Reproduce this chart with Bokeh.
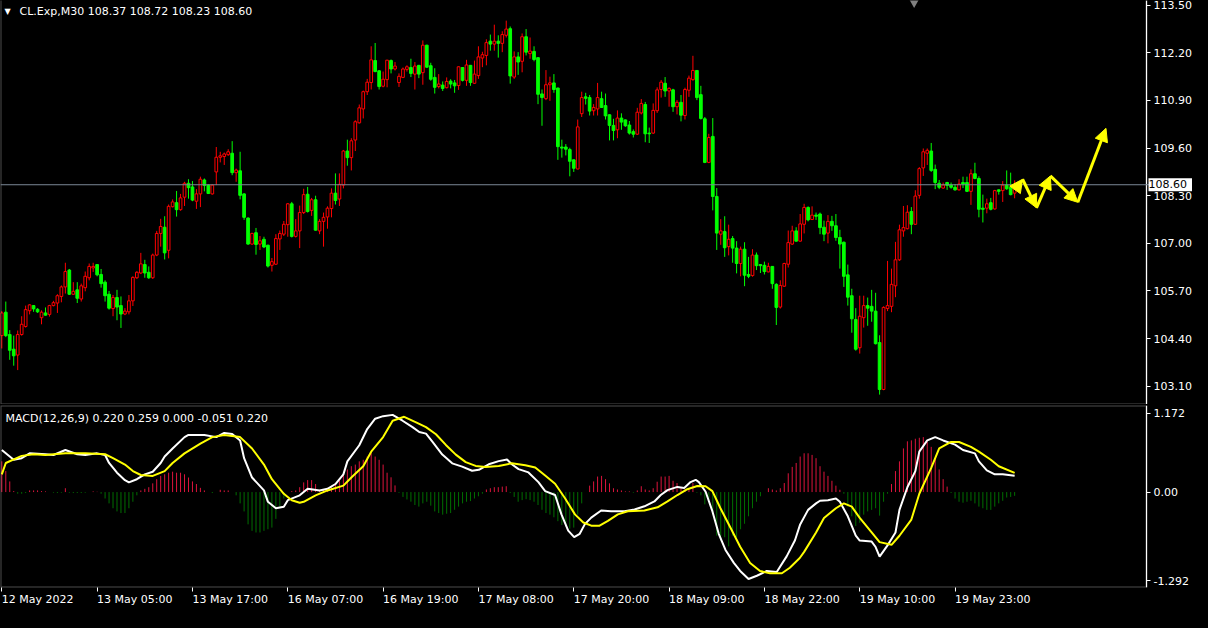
from bokeh.plotting import figure
from bokeh.layouts import column
from bokeh.models import (ColumnDataSource, FixedTicker, NumeralTickFormatter, Span, Label,
                          Arrow, NormalHead, Range1d, LinearAxis, BoxAnnotation)
from bokeh.embed import file_html
from bokeh.resources import INLINE

# ---------------- data (CL.Exp, M30) ----------------
opens = [104.48,105.12,104.51,104.11,103.95,104.51,104.73,105.16,105.30,105.20,104.97,105.10,105.06,105.30,105.37,105.55,
         105.81,106.27,105.61,105.73,105.48,105.79,106.06,106.33,106.42,106.15,105.94,105.61,105.22,105.52,105.30,105.07,
         105.13,105.43,106.06,106.19,106.42,106.21,106.06,106.68,107.27,107.44,106.81,108.00,108.11,107.92,108.26,108.64,
         108.54,108.15,108.35,108.73,108.59,108.35,108.95,109.35,109.37,109.42,109.46,108.93,108.98,108.35,107.69,106.98,
         107.29,106.98,107.11,106.95,106.40,106.43,107.12,107.25,107.51,108.08,107.19,107.34,107.84,108.34,107.90,108.19,
         107.34,107.60,107.72,107.95,108.37,108.21,108.59,109.52,109.34,109.82,110.29,110.67,111.14,111.39,111.99,111.71,
         111.29,111.47,111.99,111.76,111.39,111.53,111.75,111.80,111.62,111.86,111.66,112.41,111.85,111.53,111.28,111.32,
         111.25,111.43,111.38,111.31,111.80,111.45,111.86,111.37,111.58,112.06,112.13,112.52,112.44,112.52,112.46,112.68,
         112.86,111.54,112.09,111.97,112.64,112.18,112.24,112.07,111.08,110.95,111.33,111.38,111.24,109.63,109.63,109.56,
         109.28,109.03,110.54,111.00,110.98,110.62,110.67,110.95,110.76,110.51,110.22,110.10,110.42,110.37,110.23,110.05,
         109.98,110.56,110.79,110.01,110.01,110.62,111.20,111.37,111.16,111.19,110.73,110.85,110.49,111.18,111.47,111.72,
         111.06,110.40,109.21,109.92,108.28,107.25,107.32,106.91,107.13,106.87,106.45,106.84,106.15,106.12,106.68,106.42,
         106.40,106.22,106.37,105.88,105.26,105.83,106.43,106.98,107.34,107.06,107.52,107.98,107.65,107.77,107.80,107.44,
         107.28,107.60,107.48,107.16,107.03,106.14,105.57,104.92,104.15,104.97,105.30,105.28,105.15,104.29,103.01,105.22,
         105.28,105.84,106.55,107.34,107.40,107.87,107.52,108.31,109.06,109.46,109.52,109.02,108.64,108.51,108.66,108.59,
         108.53,108.46,108.66,108.66,108.42,108.90,108.77,107.96,107.96,108.11,107.94,108.46,108.44,108.59,108.53,108.37]
highs = [105.15,105.41,104.63,104.48,104.62,105.01,105.30,105.34,105.31,105.23,105.17,105.25,105.32,105.43,105.61,105.85,
         106.47,106.30,105.94,105.94,105.90,106.23,106.45,106.47,106.43,106.30,105.99,105.70,105.59,105.73,105.55,105.23,
         105.59,106.10,106.24,106.74,106.55,106.37,106.72,107.34,107.67,107.74,108.06,108.20,108.43,108.35,108.68,108.75,
         108.70,108.48,108.82,108.77,108.61,108.61,109.63,109.50,109.48,109.57,109.79,109.04,109.50,108.37,107.71,107.29,
         107.42,107.20,107.18,106.96,106.60,107.25,107.35,107.61,108.10,108.13,107.66,108.03,108.49,108.54,108.24,108.30,
         107.66,107.84,108.01,108.50,108.91,108.91,109.55,109.83,109.87,110.36,110.79,111.17,111.49,112.38,112.47,111.73,
         111.69,112.01,112.02,111.95,111.64,111.80,111.86,112.04,111.95,111.87,112.54,112.42,111.93,111.78,111.62,111.42,
         111.53,111.48,111.46,111.83,111.81,112.01,111.87,111.99,112.38,112.23,112.57,112.70,112.97,112.68,112.79,113.08,
         112.92,112.24,112.22,112.73,112.85,112.62,112.38,112.07,111.20,111.73,111.55,111.62,111.25,109.83,109.71,109.61,
         109.29,110.38,111.14,111.11,111.05,110.80,111.38,111.14,111.09,110.52,110.40,110.63,110.55,110.38,110.34,110.11,
         110.70,110.94,110.86,110.16,110.82,111.26,111.46,111.54,111.26,111.22,110.91,111.05,111.25,111.58,112.12,111.73,
         111.30,110.45,109.99,110.42,108.51,107.66,107.74,107.51,107.20,107.06,106.91,107.03,106.63,106.84,106.75,106.43,
         106.50,106.47,106.38,105.91,105.99,106.47,107.35,107.48,107.44,107.80,108.08,108.01,108.01,107.84,107.84,107.62,
         107.77,107.75,107.80,107.37,107.05,106.42,105.76,105.23,105.57,105.57,105.52,105.73,105.65,104.49,105.28,106.52,
         106.31,107.04,107.51,108.02,108.04,107.99,108.45,109.08,109.59,109.59,109.74,109.15,108.73,108.66,108.68,108.66,
         108.62,108.75,108.82,108.82,109.02,109.20,108.83,108.33,108.22,108.24,108.46,108.47,108.70,108.99,108.93,108.72]
lows = [104.13,104.44,103.82,103.66,103.54,104.48,104.70,105.06,105.13,105.10,104.79,105.03,105.00,105.28,105.10,105.39,
        105.63,105.59,105.59,105.37,105.41,105.69,105.99,106.22,106.10,105.79,105.41,105.19,105.01,104.90,104.69,105.04,
        105.06,105.29,106.03,106.16,106.06,106.03,106.03,106.65,106.91,106.56,106.59,107.98,107.73,107.89,108.02,108.22,
        108.15,107.94,107.99,108.42,108.35,108.33,108.59,109.21,109.14,109.39,108.86,108.68,108.20,107.64,106.96,106.96,
        106.69,106.82,106.87,106.34,106.23,106.41,106.82,107.20,107.18,107.16,107.16,106.87,107.80,107.84,107.75,107.35,
        107.25,106.91,107.40,107.71,108.06,108.02,108.50,109.12,108.99,109.52,110.27,110.41,111.05,111.20,111.67,111.20,
        111.26,111.26,111.64,111.72,111.27,111.51,111.69,111.54,111.20,111.51,111.33,111.79,111.44,111.09,111.23,111.16,
        111.23,111.23,111.11,111.19,111.42,111.30,111.30,111.35,111.49,111.81,111.86,112.26,112.26,112.07,112.22,112.62,
        111.36,111.49,111.60,111.67,112.13,112.04,111.97,110.80,110.21,110.91,110.89,111.11,109.28,109.34,109.40,108.83,
        108.95,109.02,110.45,110.79,110.49,110.49,110.49,110.70,110.38,109.81,109.81,109.87,110.10,110.18,109.97,109.89,
        109.96,110.52,109.76,109.74,109.99,110.56,110.98,111.00,110.73,110.59,110.52,110.33,110.38,111.00,111.44,110.91,
        110.38,109.19,109.19,107.90,106.82,106.96,106.63,106.67,106.47,106.18,106.10,105.83,106.05,106.09,106.27,106.19,
        106.15,106.21,105.76,104.77,105.22,105.81,106.34,106.96,107.05,107.05,107.27,107.60,107.64,107.64,107.25,107.06,
        107.00,107.34,107.07,106.31,105.81,105.30,104.56,104.07,103.99,104.70,104.75,104.86,104.24,102.87,102.99,105.15,
        105.12,105.53,106.52,107.18,107.38,107.25,107.50,108.22,108.84,109.14,108.95,108.48,108.48,108.49,108.46,108.49,
        108.44,108.44,108.51,108.40,108.05,108.75,107.71,107.57,107.82,107.90,107.92,108.33,108.13,108.46,108.31,108.23]
closes = [105.10,104.48,104.08,103.93,104.51,104.79,105.19,105.32,105.21,105.13,105.12,105.04,105.30,105.38,105.57,105.81,
          106.23,105.61,105.69,105.50,105.84,106.10,106.37,106.37,106.14,105.90,105.57,105.23,105.52,105.26,105.07,105.15,
          105.43,106.07,106.21,106.44,106.19,106.06,106.68,107.27,107.46,106.74,108.01,108.13,107.92,108.24,108.64,108.52,
          108.18,108.35,108.75,108.58,108.36,108.59,109.35,109.39,109.44,109.50,108.93,109.00,108.31,107.71,106.98,107.27,
          106.97,107.07,106.90,106.38,106.50,107.13,107.27,107.52,108.08,107.19,107.34,107.84,108.33,107.87,108.19,107.36,
          107.60,107.71,107.96,108.37,108.17,108.61,109.52,109.34,109.80,110.32,110.70,111.14,111.40,112.01,111.69,111.28,
          111.48,112.00,111.76,111.84,111.56,111.76,111.82,111.64,111.84,111.62,112.41,111.81,111.48,111.26,111.35,111.23,
          111.42,111.35,111.30,111.82,111.45,111.87,111.39,111.62,112.09,112.15,112.48,112.44,112.52,112.46,112.70,112.85,
          111.57,112.09,111.95,112.64,112.22,112.25,112.02,111.07,110.98,111.33,111.38,111.20,109.64,109.60,109.57,109.24,
          109.05,110.18,110.98,110.96,110.61,110.71,110.98,110.71,110.48,110.22,110.08,110.42,110.31,110.21,110.01,109.98,
          110.58,110.82,109.99,109.99,110.63,111.19,111.40,111.16,111.23,110.73,110.85,110.50,111.20,111.51,111.72,110.98,
          110.41,109.21,109.89,108.28,107.28,107.34,106.88,107.11,106.87,106.45,106.84,106.13,106.10,106.68,106.39,106.39,
          106.23,106.37,105.90,105.25,105.85,106.45,107.02,107.34,107.06,107.53,107.98,107.64,107.77,107.74,107.43,107.25,
          107.60,107.48,107.16,106.98,106.10,105.53,104.94,104.11,105.01,105.30,105.23,105.15,104.26,103.01,105.25,105.30,
          105.88,106.55,107.37,107.43,107.85,107.52,108.29,109.04,109.50,109.54,108.99,108.66,108.53,108.59,108.58,108.53,
          108.46,108.62,108.62,108.42,108.90,108.77,107.93,107.93,108.08,107.93,108.44,108.42,108.59,108.49,108.33,108.60]

# MACD(12,26,9) main line (white) readings: bar position -> value
macd_bars = [0,3,5,7,11,13,16,19,21,24,26,27,29,31,32,34,36,38,40,41,43,46,47,51,54,56,58,60,61,63,66,67,69,71,72,75,77,
             80,82,84,86,87,90,92,94,96,
             98.4,100.9,103.4,105.1,106.8,108.4,110.9,113.4,115.9,118.4,120.1,122.6,125.1,127.2,128.4,130.1,132.6,135.1,
             136.8,139.3,140.9,142.6,144.1,145.5,146.8,148.4,150.9,153.4,156.8,159.3,161.8,164.3,165.9,167.6,170.1,171.8,
             173.4,174.7,175.5,177.2,178.9,180.5,182.2,184.3,185.9,188.0,190.1,192.6,195.1,197.6,199.7,
             201,203,205,206,208,210,211,213,215,216,219,220,221,223,225,226,228,230,231,233,235,237,240,242,245,246,248,
             250,252,255]
macd_main = [0.569,0.437,0.459,0.524,0.512,0.502,0.569,0.512,0.502,0.524,0.502,0.394,0.262,0.161,0.131,0.174,0.240,0.275,
             0.394,0.481,0.590,0.744,0.774,0.774,0.744,0.800,0.787,0.699,0.459,0.197,0.022,-0.132,-0.219,-0.198,-0.110,
             -0.044,0.044,0.022,0.044,0.109,0.240,0.415,0.634,0.853,0.993,1.028,
             1.045,0.966,0.879,0.813,0.791,0.682,0.507,0.389,0.345,0.288,0.301,0.376,0.419,0.441,0.376,0.310,0.266,0.135,
             0.013,-0.040,-0.302,-0.521,-0.609,-0.565,-0.434,-0.346,-0.250,-0.259,-0.259,-0.237,-0.193,-0.127,-0.040,0.026,
             0.070,0.056,0.135,0.166,0.135,0.004,-0.259,-0.565,-0.784,-0.959,-1.068,-1.177,-1.133,-1.068,-1.081,-0.871,
             -0.652,
             -0.438,-0.241,-0.153,-0.118,-0.110,-0.088,-0.132,-0.328,-0.591,-0.657,-0.670,-0.744,-0.875,-0.722,-0.547,
             -0.241,0.065,0.284,0.547,0.699,0.744,0.699,0.643,0.569,0.524,0.415,0.293,0.240,0.240,0.220]
# signal line (yellow) readings
sig_bars = [0,1,5,8,11,16,21,26,28,31,33,35,38,41,43,46,50,53,56,60,63,66,68,71,73,75,76,79,82,86,88,91,93,96,
            98.4,101.3,104.3,106.8,109.3,111.8,114.3,116.8,119.3,121.8,125.1,128.4,131.8,134.3,136.8,139.3,141.8,144.3,
            146.4,148.4,150.5,152.6,155.1,157.6,161.8,165.1,167.6,170.1,172.6,175.1,177.2,178.9,180.9,183.4,185.9,188.4,
            190.9,193.4,196.4,198.4,200.9,
            202,205,207,210,212,214,216,219,221,224,226,229,231,234,236,239,241,244,246,249,251,255]
macd_signal = [0.240,0.394,0.490,0.512,0.502,0.524,0.524,0.512,0.459,0.372,0.284,0.231,0.219,0.284,0.394,0.524,0.656,
               0.744,0.774,0.744,0.590,0.372,0.174,-0.023,-0.110,-0.145,-0.132,-0.044,0.022,0.087,0.197,0.349,0.546,
               0.744,
               0.966,1.019,0.944,0.879,0.783,0.638,0.507,0.406,0.354,0.341,0.354,0.389,0.363,0.332,0.223,0.113,-0.084,
               -0.302,-0.412,-0.455,-0.455,-0.390,-0.302,-0.259,-0.250,-0.206,-0.127,-0.040,0.039,0.083,0.078,0.013,
               -0.215,-0.477,-0.740,-0.959,-1.068,-1.099,-1.099,-1.024,-0.893,
               -0.810,-0.547,-0.350,-0.219,-0.153,-0.198,-0.350,-0.547,-0.678,-0.714,-0.591,-0.372,-0.023,0.327,0.590,
               0.678,0.678,0.612,0.547,0.437,0.349,0.259]
# histogram, one value per bar
macd_hist = [0.416,0.284,0.144,0.013,-0.022,-0.022,-0.013,0.022,0.022,0.022,0.013,0.009,0.0,-0.009,-0.013,-0.009,
             0.052,-0.009,-0.013,-0.013,-0.013,-0.009,0.0,0.009,0.004,-0.022,-0.087,-0.153,-0.219,-0.262,-0.284,-0.284,
             -0.219,-0.131,-0.044,0.022,0.044,0.066,0.118,0.175,0.219,0.241,0.262,0.276,0.262,0.262,0.241,0.197,
             0.144,0.109,0.057,0.022,0.0,-0.013,0.0,0.031,0.022,0.022,0.0,-0.044,-0.153,-0.262,-0.437,-0.525,
             -0.547,-0.547,-0.525,-0.503,-0.481,-0.363,-0.197,-0.087,0.0,0.013,0.022,0.066,0.131,0.162,0.162,0.109,
             0.031,0.031,0.044,0.066,0.109,0.153,0.241,0.306,0.350,0.372,0.416,0.437,0.481,0.525,0.481,0.437,
             0.372,0.262,0.200,0.090,-0.010,-0.066,-0.100,-0.130,-0.175,-0.197,-0.153,-0.131,-0.184,-0.262,-0.284,-0.306,
             -0.293,-0.284,-0.240,-0.197,-0.153,-0.131,-0.122,-0.087,-0.057,-0.022,0.035,0.052,0.066,0.066,0.074,0.079,
             -0.013,-0.066,-0.131,-0.109,-0.096,-0.109,-0.131,-0.175,-0.240,-0.284,-0.306,-0.341,-0.394,-0.446,-0.472,-0.494,
             -0.481,-0.306,-0.153,0.0,0.087,0.144,0.210,0.219,0.175,0.118,0.052,0.035,0.022,0.009,0.009,-0.009,
             0.022,0.079,0.035,0.022,0.052,0.140,0.210,0.210,0.219,0.153,0.122,0.052,0.035,0.052,0.122,-0.009,
             -0.044,-0.166,-0.109,-0.306,-0.590,-0.656,-0.612,-0.735,-0.590,-0.612,-0.503,-0.429,-0.328,-0.219,-0.131,-0.057,
             0.0,0.052,0.035,0.022,0.052,0.122,0.254,0.341,0.394,0.481,0.525,0.525,0.503,0.459,0.350,0.276,
             0.219,0.153,0.087,0.031,-0.022,-0.197,-0.328,-0.459,-0.416,-0.306,-0.262,-0.241,-0.219,-0.319,-0.131,-0.022,
             0.109,0.284,0.416,0.591,0.687,0.700,0.722,0.735,0.744,0.678,0.612,0.459,0.306,0.175,0.074,-0.013,
             -0.087,-0.131,-0.144,-0.131,-0.118,-0.153,-0.197,-0.219,-0.241,-0.241,-0.197,-0.153,-0.118,-0.074,-0.066,-0.051]

price_ticks = [113.50, 112.20, 110.90, 109.60, 108.30, 107.00, 105.70, 104.40, 103.10]
last_price = 108.60
title_text = "CL.Exp,M30  108.37 108.72 108.23 108.60"
macd_title = "MACD(12,26,9) 0.220 0.259 0.000 -0.051 0.220"
macd_tick_labels = ["1.172", "0.00", "-1.292"]
time_tick_bars = [0, 24, 48, 72, 96, 120, 144, 168, 192, 216, 240]
time_tick_labels = ["12 May 2022", "13 May 05:00", "13 May 17:00", "16 May 07:00", "16 May 19:00",
                    "17 May 08:00", "17 May 20:00", "18 May 09:00", "18 May 22:00", "19 May 10:00",
                    "19 May 23:00"]
# hand-drawn forecast path (yellow arrows)
fc_bar = [255.1, 257.0, 260.5, 264.0, 270.9, 278.0]
fc_price = [108.46, 108.75, 107.97, 108.84, 108.12, 110.14]

# ---------------- styling ----------------
FONT = "DejaVu Sans"
W = 1192
AX_POS = 288.2          # bar position of the price-scale edge
BULL = "#ff0000"
BEAR = "#00ff00"
xr = Range1d(-0.33, 299.78)

n = len(closes)
idx = list(range(n))
is_bull = [c >= o for o, c in zip(opens, closes)]
src = ColumnDataSource(dict(
    x=idx, low=lows, high=highs,
    top=[max(o, c) for o, c in zip(opens, closes)],
    bottom=[min(o, c) for o, c in zip(opens, closes)],
    color=[BULL if b else BEAR for b in is_bull],
    fill=["#000000" if b else BEAR for b in is_bull],
))


def style_axis(ax):
    ax.axis_line_color = "white"
    ax.major_tick_line_color = "white"
    ax.minor_tick_line_color = None
    ax.major_tick_in = 0
    ax.major_tick_out = 4
    ax.major_label_text_color = "white"
    ax.major_label_text_font = FONT
    ax.major_label_text_font_size = "11px"
    ax.major_label_standoff = 3


def base_fig(h, yr, top_border):
    f = figure(frame_width=W, frame_height=h, x_range=xr, y_range=yr,
               output_backend="svg", toolbar_location=None, y_axis_location=None, x_axis_location=None,
               background_fill_color="black", border_fill_color="black", outline_line_color=None,
               min_border_left=0, min_border_top=top_border, min_border_bottom=0, min_border_right=0)
    f.grid.visible = False
    return f


# ---------------- price panel ----------------
p = base_fig(404, Range1d(102.60, 113.63), 0)
pax = LinearAxis(fixed_location=AX_POS, ticker=FixedTicker(ticks=price_ticks),
                 formatter=NumeralTickFormatter(format="0.00"))
style_axis(pax)
p.add_layout(pax, "right")
p.add_layout(BoxAnnotation(left=-0.33, right=AX_POS, bottom=102.60, top=114.5, fill_color=None,
                           line_color="white", line_width=2))

p.add_layout(Span(location=last_price, dimension="width", line_color="#7a8796", line_width=1))
p.segment(x0="x", y0="low", x1="x", y1="high", color="color", line_width=1, source=src)
p.vbar(x="x", width=0.68, top="top", bottom="bottom", fill_color="fill", line_color="color",
       line_width=1, source=src)

for i in range(len(fc_bar) - 1):
    p.add_layout(Arrow(x_start=fc_bar[i], y_start=fc_price[i], x_end=fc_bar[i + 1], y_end=fc_price[i + 1],
                       line_color="#ffff00", line_width=3,
                       end=NormalHead(size=13, fill_color="#ffff00", line_color="#ffff00")))

p.add_layout(Label(x=4, y=113.33, x_units="screen", text="▼", text_color="white",
                   text_font=FONT, text_font_size="8px", text_baseline="middle"))
p.add_layout(Label(x=19, y=113.33, x_units="screen", text=title_text, text_color="white",
                   text_font=FONT, text_font_size="11px", text_baseline="middle"))
p.add_layout(Label(x=AX_POS, y=last_price, x_offset=2, text=" " + f"{last_price:.2f}" + "  ",
                   text_color="black", background_fill_color="white",
                   text_font=FONT, text_font_size="11px", text_baseline="middle"))
p.scatter(x=[229.7], y=[113.57], marker="inverted_triangle", size=9, fill_color="#808080", line_color=None)

# ---------------- MACD panel ----------------
p2 = base_fig(182, Range1d(-1.292, 1.172), 1)
macd_tick_pos = [1.067, 0.0, -1.203]
max_ = LinearAxis(fixed_location=AX_POS, ticker=FixedTicker(ticks=macd_tick_pos))
style_axis(max_)
max_.major_label_overrides = dict(zip(macd_tick_pos, macd_tick_labels))
p2.add_layout(max_, "right")
p2.add_layout(BoxAnnotation(left=-0.33, right=AX_POS, bottom=-1.292, top=1.172, fill_color=None,
                            line_color="white", line_width=2))

tax = LinearAxis(ticker=FixedTicker(ticks=time_tick_bars))
style_axis(tax)
tax.axis_line_color = None
tax.major_label_overrides = dict(zip(time_tick_bars, time_tick_labels))
tax.major_label_orientation = -0.0001   # keeps labels level, starting at their tick
tax.major_label_standoff = 8
p2.add_layout(tax, "below")

hsrc = ColumnDataSource(dict(x=idx, zero=[0.0] * n, h=macd_hist,
                             c=["#dc143c" if v > 0 else "#006e00" for v in macd_hist]))
p2.segment(x0="x", y0="zero", x1="x", y1="h", line_color="c", line_width=1, source=hsrc)
p2.line(macd_bars, macd_main, line_color="white", line_width=2)
p2.line(sig_bars, macd_signal, line_color="#ffff00", line_width=2)
p2.add_layout(Label(x=5, y=1.0, x_units="screen", text=macd_title, text_color="white",
                    text_font=FONT, text_font_size="11px", text_baseline="middle"))

layout = column(p, p2, spacing=0, background="black")
tmpl = "{% block postamble %}<style>body{background:#000000;}</style>{% endblock %}"
open("out.html", "w").write(file_html(layout, INLINE, title="CL.Exp M30", template=tmpl))
